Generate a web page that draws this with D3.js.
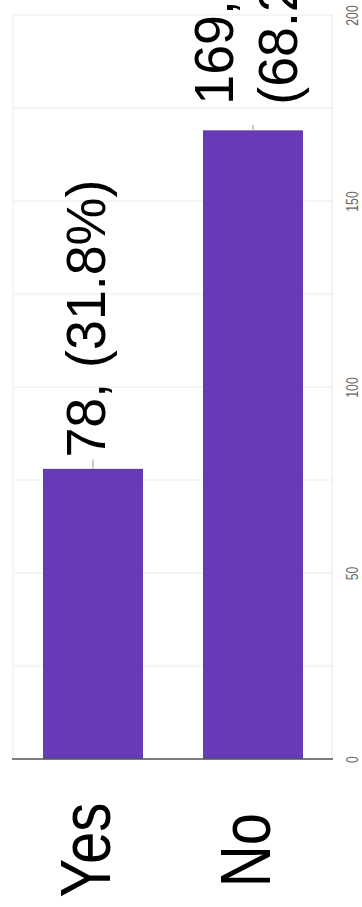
<!DOCTYPE html>
<html>
<head>
<meta charset="utf-8">
<script src="https://cdn.jsdelivr.net/npm/d3@7"></script>
<style>
  html, body { margin: 0; padding: 0; background: #fff; }
  svg { display: block; }
  text { font-family: "Liberation Sans", Arial, Helvetica, sans-serif; }
</style>
</head>
<body>
<div id="chart"></div>
<script>

// chart data
var categories = ['Yes', 'No'];
var counts = [78, 169];
var percents = [31.8, 68.2];
// little whisker drawn above each bar
var whiskers = [2.5, 1.5];
var gridTicks = [0, 25, 50, 75, 100, 125, 150, 175, 200];
var tickLabels = [0, 50, 100, 150, 200];

var width = 362;
var height = 907;

var svg = d3.select('#chart').append('svg')
  .attr('width', width)
  .attr('height', height);

// plot frame (NOTE: "top" is taken by window.top, so prefixed names)
var plotLeft = 13, plotRight = 333, plotTop = 15, plotBottom = 759;

var x = d3.scaleBand()
  .domain(categories)
  .range([plotLeft, plotRight])
  .paddingInner(0.375)
  .paddingOuter(0.1875);

var y = d3.scaleLinear()
  .domain([0, 200])
  .range([plotBottom, plotTop]);

// gridlines
svg.append('g').selectAll('line')
  .data(gridTicks)
  .enter().append('line')
    .attr('x1', plotLeft)
    .attr('x2', plotRight)
    .attr('y1', function(d) { return y(d); })
    .attr('y2', function(d) { return y(d); })
    .attr('stroke', '#ececec')
    .attr('stroke-width', 1);

// side borders
svg.append('line')
  .attr('x1', plotLeft).attr('x2', plotLeft)
  .attr('y1', y(200)).attr('y2', y(0))
  .attr('stroke', '#ececec');
svg.append('line')
  .attr('x1', plotRight - 1).attr('x2', plotRight - 1)
  .attr('y1', y(200)).attr('y2', y(0))
  .attr('stroke', '#e6e6e6');

// bars
svg.append('g').selectAll('rect')
  .data(counts)
  .enter().append('rect')
    .attr('x', function(d, i) { return x(categories[i]); })
    .attr('y', function(d) { return y(d); })
    .attr('width', x.bandwidth())
    .attr('height', function(d) { return y(0) - y(d); })
    .attr('fill', '#673ab7');

// whiskers above bars
svg.append('g').selectAll('line')
  .data(counts)
  .enter().append('line')
    .attr('x1', function(d, i) { return x(categories[i]) + x.bandwidth() / 2; })
    .attr('x2', function(d, i) { return x(categories[i]) + x.bandwidth() / 2; })
    .attr('y1', function(d) { return y(d); })
    .attr('y2', function(d, i) { return y(d + whiskers[i]); })
    .attr('stroke', '#aaa')
    .attr('stroke-width', 1.2);

// baseline
svg.append('line')
  .attr('x1', plotLeft - 1).attr('x2', plotRight)
  .attr('y1', y(0)).attr('y2', y(0))
  .attr('stroke', '#555')
  .attr('stroke-width', 1.5);

// value axis labels (rotated, on the right)
var yAxis = d3.axisRight(y).tickValues(tickLabels).tickSize(0).tickFormat(d3.format('d'));
var axisG = svg.append('g').call(yAxis);
axisG.select('.domain').remove();
axisG.selectAll('.tick text')
  .attr('x', null).attr('dy', null)
  .attr('text-anchor', 'middle')
  .attr('font-size', 17)
  .attr('fill', '#666')
  .attr('transform', 'translate(358,0) rotate(-90) scale(0.72,1)');

// value labels, wrapped when there is no room above the bar
var valueFont = 56, valueScale = 0.96, lineStep = 64, capH = 40;
var measure = svg.append('text').attr('font-size', valueFont).attr('visibility', 'hidden');

counts.forEach(function(d, i) {
  var label = d + ', (' + percents[i].toFixed(1) + '%)';
  measure.text(label);
  var len = measure.node().getComputedTextLength() * valueScale;
  var lines = [label];
  if (len > y(d + whiskers[i]) - 10) {
    lines = label.split(' ');
  }
  var cx = x(categories[i]) + x.bandwidth() / 2;
  var blockH = capH + lineStep * (lines.length - 1);
  var firstBase = cx - 8 - blockH / 2 + capH;
  var startY = y(d + whiskers[i]) - (lines.length > 1 ? 20 : 2);

  var t = svg.append('text')
    .attr('font-size', valueFont)
    .attr('fill', '#000')
    .attr('transform', 'translate(' + firstBase + ',' + startY + ') rotate(-90) scale(' + valueScale + ',1)');
  lines.forEach(function(l, j) {
    t.append('tspan').attr('x', 0).attr('y', j * lineStep).text(l);
  });
});
measure.remove();

// category labels
svg.append('g').selectAll('text')
  .data(categories)
  .enter().append('text')
    .attr('font-size', 70)
    .attr('text-anchor', 'middle')
    .attr('fill', '#000')
    .attr('transform', function(d) {
      return 'translate(' + (x(d) + x.bandwidth() / 2 + 17) + ',850) rotate(-90) scale(0.83,1)';
    })
    .text(function(d) { return d; });

</script>
</body>
</html>
